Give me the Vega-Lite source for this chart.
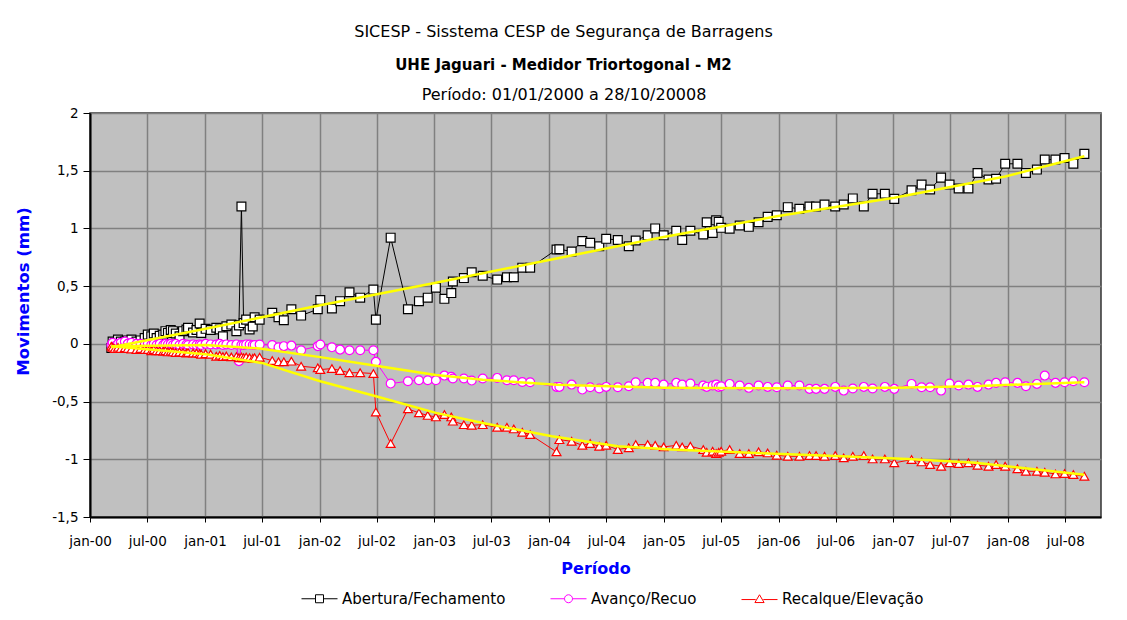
{
  "$schema": "https://vega.github.io/schema/vega-lite/v6.json",
  "width": 1011,
  "height": 404,
  "autosize": {"type": "none"},
  "padding": {"left": 90, "top": 113, "right": 26, "bottom": 103},
  "background": "white",
  "title": {
    "text": "SICESP - Sisstema CESP de Segurança de Barragens",
    "subtitle": "UHE Jaguari - Medidor Triortogonal - M2",
    "font": "DejaVu Sans", "fontSize": 16, "fontWeight": "normal", "color": "black",
    "subtitleFont": "DejaVu Sans", "subtitleFontSize": 15, "subtitleFontWeight": "bold", "subtitleColor": "black",
    "subtitlePadding": 18, "anchor": "middle", "frame": "group", "dx": -32, "offset": 13
  },
  "config": {
    "font": "DejaVu Sans",
    "view": {"fill": "#C0C0C0", "stroke": "#333333", "strokeWidth": 1.5},
    "axis": {"labelFont": "DejaVu Sans", "labelFontSize": 13.5, "labelColor": "black", "titleFont": "DejaVu Sans"}
  },
  "datasets": {
    "m": [
      {"d":"2000-03-09","Abertura/Fechamento":-0.035,"Avanço/Recuo":-0.01,"Recalque/Elevação":-0.02},
      {"d":"2000-03-13","Abertura/Fechamento":0.02,"Avanço/Recuo":0.01,"Recalque/Elevação":-0.03},
      {"d":"2000-03-20","Abertura/Fechamento":0.01,"Avanço/Recuo":-0.02,"Recalque/Elevação":-0.04},
      {"d":"2000-03-30","Abertura/Fechamento":0.037,"Avanço/Recuo":0.0,"Recalque/Elevação":-0.03},
      {"d":"2000-04-08","Abertura/Fechamento":0.02,"Avanço/Recuo":0.01,"Recalque/Elevação":-0.04},
      {"d":"2000-04-21","Abertura/Fechamento":0.02,"Avanço/Recuo":0.02,"Recalque/Elevação":-0.035},
      {"d":"2000-04-30","Abertura/Fechamento":0.03,"Avanço/Recuo":0.0,"Recalque/Elevação":-0.04},
      {"d":"2000-05-12","Abertura/Fechamento":0.037,"Avanço/Recuo":0.01,"Recalque/Elevação":-0.045},
      {"d":"2000-05-28","Abertura/Fechamento":0.02,"Avanço/Recuo":0.0,"Recalque/Elevação":-0.05},
      {"d":"2000-06-10","Abertura/Fechamento":0.03,"Avanço/Recuo":0.0,"Recalque/Elevação":-0.04},
      {"d":"2000-06-23","Abertura/Fechamento":0.05,"Avanço/Recuo":-0.01,"Recalque/Elevação":-0.05},
      {"d":"2000-07-03","Abertura/Fechamento":0.08,"Avanço/Recuo":0.0,"Recalque/Elevação":-0.05},
      {"d":"2000-07-14","Abertura/Fechamento":0.066,"Avanço/Recuo":-0.01,"Recalque/Elevação":-0.06},
      {"d":"2000-07-22","Abertura/Fechamento":0.09,"Avanço/Recuo":0.0,"Recalque/Elevação":-0.05},
      {"d":"2000-07-31","Abertura/Fechamento":0.05,"Avanço/Recuo":-0.01,"Recalque/Elevação":-0.06},
      {"d":"2000-08-10","Abertura/Fechamento":0.07,"Avanço/Recuo":0.0,"Recalque/Elevação":-0.06},
      {"d":"2000-08-21","Abertura/Fechamento":0.08,"Avanço/Recuo":-0.01,"Recalque/Elevação":-0.065},
      {"d":"2000-08-28","Abertura/Fechamento":0.11,"Avanço/Recuo":0.0,"Recalque/Elevação":-0.06},
      {"d":"2000-09-05","Abertura/Fechamento":0.095,"Avanço/Recuo":-0.005,"Recalque/Elevação":-0.07},
      {"d":"2000-09-14","Abertura/Fechamento":0.12,"Avanço/Recuo":0.0,"Recalque/Elevação":-0.065},
      {"d":"2000-09-21","Abertura/Fechamento":0.11,"Avanço/Recuo":-0.01,"Recalque/Elevação":-0.07},
      {"d":"2000-09-30","Abertura/Fechamento":0.09,"Avanço/Recuo":0.0,"Recalque/Elevação":-0.075},
      {"d":"2000-10-12","Abertura/Fechamento":0.066,"Avanço/Recuo":-0.01,"Recalque/Elevação":-0.07},
      {"d":"2000-10-23","Abertura/Fechamento":0.11,"Avanço/Recuo":0.0,"Recalque/Elevação":-0.075},
      {"d":"2000-11-03","Abertura/Fechamento":0.124,"Avanço/Recuo":-0.005,"Recalque/Elevação":-0.08},
      {"d":"2000-11-08","Abertura/Fechamento":0.14,"Avanço/Recuo":-0.01,"Recalque/Elevação":-0.075},
      {"d":"2000-11-24","Abertura/Fechamento":0.098,"Avanço/Recuo":-0.005,"Recalque/Elevação":-0.08},
      {"d":"2000-12-05","Abertura/Fechamento":0.12,"Avanço/Recuo":-0.01,"Recalque/Elevação":-0.08},
      {"d":"2000-12-15","Abertura/Fechamento":0.176,"Avanço/Recuo":-0.005,"Recalque/Elevação":-0.085},
      {"d":"2000-12-20","Abertura/Fechamento":0.095,"Avanço/Recuo":-0.01,"Recalque/Elevação":-0.09},
      {"d":"2001-01-03","Abertura/Fechamento":0.13,"Avanço/Recuo":0.0,"Recalque/Elevação":-0.085},
      {"d":"2001-01-19","Abertura/Fechamento":0.12,"Avanço/Recuo":-0.005,"Recalque/Elevação":-0.09},
      {"d":"2001-02-06","Abertura/Fechamento":0.14,"Avanço/Recuo":-0.006,"Recalque/Elevação":-0.107},
      {"d":"2001-02-17","Abertura/Fechamento":0.124,"Avanço/Recuo":0.0,"Recalque/Elevação":-0.1},
      {"d":"2001-02-27","Abertura/Fechamento":0.066,"Avanço/Recuo":-0.01,"Recalque/Elevação":-0.11},
      {"d":"2001-03-10","Abertura/Fechamento":0.153,"Avanço/Recuo":-0.005,"Recalque/Elevação":-0.105},
      {"d":"2001-03-26","Abertura/Fechamento":0.167,"Avanço/Recuo":-0.01,"Recalque/Elevação":-0.113},
      {"d":"2001-04-11","Abertura/Fechamento":0.11,"Avanço/Recuo":-0.005,"Recalque/Elevação":-0.11},
      {"d":"2001-04-19","Abertura/Fechamento":0.16,"Avanço/Recuo":-0.15,"Recalque/Elevação":-0.12},
      {"d":"2001-04-27","Abertura/Fechamento":1.19,"Avanço/Recuo":-0.01,"Recalque/Elevação":-0.115},
      {"d":"2001-05-04","Abertura/Fechamento":0.18,"Avanço/Recuo":-0.01,"Recalque/Elevação":-0.12},
      {"d":"2001-05-12","Abertura/Fechamento":0.21,"Avanço/Recuo":-0.005,"Recalque/Elevação":-0.115},
      {"d":"2001-05-23","Abertura/Fechamento":0.124,"Avanço/Recuo":-0.006,"Recalque/Elevação":-0.12},
      {"d":"2001-06-02","Abertura/Fechamento":0.15,"Avanço/Recuo":-0.01,"Recalque/Elevação":-0.125},
      {"d":"2001-06-08","Abertura/Fechamento":0.23,"Avanço/Recuo":-0.01,"Recalque/Elevação":-0.12},
      {"d":"2001-06-24","Abertura/Fechamento":0.21,"Avanço/Recuo":-0.006,"Recalque/Elevação":-0.116},
      {"d":"2001-08-03","Abertura/Fechamento":0.27,"Avanço/Recuo":-0.01,"Recalque/Elevação":-0.145},
      {"d":"2001-08-23","Abertura/Fechamento":0.23,"Avanço/Recuo":-0.03,"Recalque/Elevação":-0.156},
      {"d":"2001-09-09","Abertura/Fechamento":0.205,"Avanço/Recuo":-0.02,"Recalque/Elevação":-0.156},
      {"d":"2001-10-03","Abertura/Fechamento":0.30,"Avanço/Recuo":-0.015,"Recalque/Elevação":-0.15},
      {"d":"2001-11-03","Abertura/Fechamento":0.245,"Avanço/Recuo":-0.055,"Recalque/Elevação":-0.194},
      {"d":"2001-12-26","Abertura/Fechamento":0.30,"Avanço/Recuo":-0.02,"Recalque/Elevação":-0.208},
      {"d":"2002-01-03","Abertura/Fechamento":0.38,"Avanço/Recuo":-0.006,"Recalque/Elevação":-0.223},
      {"d":"2002-02-09","Abertura/Fechamento":0.306,"Avanço/Recuo":-0.03,"Recalque/Elevação":-0.214},
      {"d":"2002-03-07","Abertura/Fechamento":0.37,"Avanço/Recuo":-0.05,"Recalque/Elevação":-0.231},
      {"d":"2002-04-06","Abertura/Fechamento":0.447,"Avanço/Recuo":-0.055,"Recalque/Elevação":-0.25},
      {"d":"2002-05-10","Abertura/Fechamento":0.40,"Avanço/Recuo":-0.055,"Recalque/Elevação":-0.25},
      {"d":"2002-06-21","Abertura/Fechamento":0.47,"Avanço/Recuo":-0.055,"Recalque/Elevação":-0.257},
      {"d":"2002-06-29","Abertura/Fechamento":0.21,"Avanço/Recuo":-0.156,"Recalque/Elevação":-0.59},
      {"d":"2002-08-15","Abertura/Fechamento":0.92,"Avanço/Recuo":-0.344,"Recalque/Elevação":-0.864},
      {"d":"2002-10-09","Abertura/Fechamento":0.30,"Avanço/Recuo":-0.324,"Recalque/Elevação":-0.563},
      {"d":"2002-11-13","Abertura/Fechamento":0.37,"Avanço/Recuo":-0.315,"Recalque/Elevação":-0.598},
      {"d":"2002-12-11","Abertura/Fechamento":0.40,"Avanço/Recuo":-0.315,"Recalque/Elevação":-0.62},
      {"d":"2003-01-06","Abertura/Fechamento":0.487,"Avanço/Recuo":-0.315,"Recalque/Elevação":-0.633},
      {"d":"2003-02-02","Abertura/Fechamento":0.39,"Avanço/Recuo":-0.275,"Recalque/Elevação":-0.613},
      {"d":"2003-02-24","Abertura/Fechamento":0.44,"Avanço/Recuo":-0.286,"Recalque/Elevação":-0.633},
      {"d":"2003-03-01","Abertura/Fechamento":0.54,"Avanço/Recuo":-0.30,"Recalque/Elevação":-0.67},
      {"d":"2003-04-05","Abertura/Fechamento":0.57,"Avanço/Recuo":-0.30,"Recalque/Elevação":-0.70},
      {"d":"2003-04-30","Abertura/Fechamento":0.62,"Avanço/Recuo":-0.318,"Recalque/Elevação":-0.705},
      {"d":"2003-06-04","Abertura/Fechamento":0.59,"Avanço/Recuo":-0.30,"Recalque/Elevação":-0.70},
      {"d":"2003-07-20","Abertura/Fechamento":0.557,"Avanço/Recuo":-0.295,"Recalque/Elevação":-0.723},
      {"d":"2003-08-20","Abertura/Fechamento":0.577,"Avanço/Recuo":-0.315,"Recalque/Elevação":-0.723},
      {"d":"2003-09-11","Abertura/Fechamento":0.577,"Avanço/Recuo":-0.315,"Recalque/Elevação":-0.737},
      {"d":"2003-10-08","Abertura/Fechamento":0.66,"Avanço/Recuo":-0.33,"Recalque/Elevação":-0.766},
      {"d":"2003-11-02","Abertura/Fechamento":0.66,"Avanço/Recuo":-0.333,"Recalque/Elevação":-0.786},
      {"d":"2004-01-25","Abertura/Fechamento":0.817,"Avanço/Recuo":-0.373,"Recalque/Elevação":-0.936},
      {"d":"2004-02-03","Abertura/Fechamento":0.82,"Avanço/Recuo":-0.373,"Recalque/Elevação":-0.83},
      {"d":"2004-03-13","Abertura/Fechamento":0.80,"Avanço/Recuo":-0.353,"Recalque/Elevação":-0.844},
      {"d":"2004-04-16","Abertura/Fechamento":0.89,"Avanço/Recuo":-0.396,"Recalque/Elevação":-0.879},
      {"d":"2004-05-11","Abertura/Fechamento":0.875,"Avanço/Recuo":-0.376,"Recalque/Elevação":-0.864},
      {"d":"2004-06-09","Abertura/Fechamento":0.846,"Avanço/Recuo":-0.387,"Recalque/Elevação":-0.887},
      {"d":"2004-07-01","Abertura/Fechamento":0.91,"Avanço/Recuo":-0.373,"Recalque/Elevação":-0.879},
      {"d":"2004-08-07","Abertura/Fechamento":0.90,"Avanço/Recuo":-0.376,"Recalque/Elevação":-0.916},
      {"d":"2004-09-11","Abertura/Fechamento":0.846,"Avanço/Recuo":-0.367,"Recalque/Elevação":-0.90},
      {"d":"2004-10-03","Abertura/Fechamento":0.895,"Avanço/Recuo":-0.333,"Recalque/Elevação":-0.873},
      {"d":"2004-11-10","Abertura/Fechamento":0.94,"Avanço/Recuo":-0.338,"Recalque/Elevação":-0.873},
      {"d":"2004-12-04","Abertura/Fechamento":1.0,"Avanço/Recuo":-0.338,"Recalque/Elevação":-0.879},
      {"d":"2004-12-31","Abertura/Fechamento":0.94,"Avanço/Recuo":-0.353,"Recalque/Elevação":-0.893},
      {"d":"2005-02-09","Abertura/Fechamento":0.98,"Avanço/Recuo":-0.338,"Recalque/Elevação":-0.879},
      {"d":"2005-02-28","Abertura/Fechamento":0.90,"Avanço/Recuo":-0.353,"Recalque/Elevação":-0.893},
      {"d":"2005-03-26","Abertura/Fechamento":0.98,"Avanço/Recuo":-0.344,"Recalque/Elevação":-0.887},
      {"d":"2005-05-06","Abertura/Fechamento":0.947,"Avanço/Recuo":-0.361,"Recalque/Elevação":-0.916},
      {"d":"2005-05-17","Abertura/Fechamento":1.054,"Avanço/Recuo":-0.373,"Recalque/Elevação":-0.94},
      {"d":"2005-06-05","Abertura/Fechamento":0.96,"Avanço/Recuo":-0.361,"Recalque/Elevação":-0.93},
      {"d":"2005-06-16","Abertura/Fechamento":1.07,"Avanço/Recuo":-0.353,"Recalque/Elevação":-0.95},
      {"d":"2005-06-24","Abertura/Fechamento":1.057,"Avanço/Recuo":-0.373,"Recalque/Elevação":-0.94},
      {"d":"2005-07-02","Abertura/Fechamento":1.005,"Avanço/Recuo":-0.367,"Recalque/Elevação":-0.93},
      {"d":"2005-07-29","Abertura/Fechamento":0.997,"Avanço/Recuo":-0.347,"Recalque/Elevação":-0.916},
      {"d":"2005-08-30","Abertura/Fechamento":1.025,"Avanço/Recuo":-0.361,"Recalque/Elevação":-0.95},
      {"d":"2005-09-28","Abertura/Fechamento":1.014,"Avanço/Recuo":-0.381,"Recalque/Elevação":-0.95},
      {"d":"2005-10-29","Abertura/Fechamento":1.054,"Avanço/Recuo":-0.361,"Recalque/Elevação":-0.936},
      {"d":"2005-11-27","Abertura/Fechamento":1.10,"Avanço/Recuo":-0.373,"Recalque/Elevação":-0.945},
      {"d":"2005-12-26","Abertura/Fechamento":1.114,"Avanço/Recuo":-0.376,"Recalque/Elevação":-0.965},
      {"d":"2006-01-30","Abertura/Fechamento":1.184,"Avanço/Recuo":-0.361,"Recalque/Elevação":-0.974},
      {"d":"2006-03-08","Abertura/Fechamento":1.17,"Avanço/Recuo":-0.361,"Recalque/Elevação":-0.974},
      {"d":"2006-04-09","Abertura/Fechamento":1.19,"Avanço/Recuo":-0.39,"Recalque/Elevação":-0.968},
      {"d":"2006-04-30","Abertura/Fechamento":1.19,"Avanço/Recuo":-0.39,"Recalque/Elevação":-0.968},
      {"d":"2006-05-27","Abertura/Fechamento":1.207,"Avanço/Recuo":-0.39,"Recalque/Elevação":-0.974},
      {"d":"2006-06-30","Abertura/Fechamento":1.19,"Avanço/Recuo":-0.373,"Recalque/Elevação":-0.968},
      {"d":"2006-07-27","Abertura/Fechamento":1.207,"Avanço/Recuo":-0.405,"Recalque/Elevação":-0.988},
      {"d":"2006-08-25","Abertura/Fechamento":1.26,"Avanço/Recuo":-0.387,"Recalque/Elevação":-0.974},
      {"d":"2006-09-29","Abertura/Fechamento":1.19,"Avanço/Recuo":-0.373,"Recalque/Elevação":-0.968},
      {"d":"2006-10-27","Abertura/Fechamento":1.30,"Avanço/Recuo":-0.387,"Recalque/Elevação":-0.997},
      {"d":"2006-12-05","Abertura/Fechamento":1.30,"Avanço/Recuo":-0.373,"Recalque/Elevação":-0.997},
      {"d":"2007-01-04","Abertura/Fechamento":1.256,"Avanço/Recuo":-0.39,"Recalque/Elevação":-1.031},
      {"d":"2007-02-28","Abertura/Fechamento":1.33,"Avanço/Recuo":-0.347,"Recalque/Elevação":-1.003},
      {"d":"2007-04-01","Abertura/Fechamento":1.38,"Avanço/Recuo":-0.376,"Recalque/Elevação":-1.023},
      {"d":"2007-04-28","Abertura/Fechamento":1.337,"Avanço/Recuo":-0.376,"Recalque/Elevação":-1.046},
      {"d":"2007-06-02","Abertura/Fechamento":1.44,"Avanço/Recuo":-0.405,"Recalque/Elevação":-1.06},
      {"d":"2007-06-29","Abertura/Fechamento":1.38,"Avanço/Recuo":-0.344,"Recalque/Elevação":-1.031},
      {"d":"2007-07-28","Abertura/Fechamento":1.346,"Avanço/Recuo":-0.361,"Recalque/Elevação":-1.037},
      {"d":"2007-08-28","Abertura/Fechamento":1.346,"Avanço/Recuo":-0.353,"Recalque/Elevação":-1.031},
      {"d":"2007-09-26","Abertura/Fechamento":1.48,"Avanço/Recuo":-0.373,"Recalque/Elevação":-1.052},
      {"d":"2007-10-31","Abertura/Fechamento":1.424,"Avanço/Recuo":-0.353,"Recalque/Elevação":-1.06},
      {"d":"2007-11-24","Abertura/Fechamento":1.43,"Avanço/Recuo":-0.338,"Recalque/Elevação":-1.046},
      {"d":"2007-12-23","Abertura/Fechamento":1.56,"Avanço/Recuo":-0.333,"Recalque/Elevação":-1.06},
      {"d":"2008-01-31","Abertura/Fechamento":1.56,"Avanço/Recuo":-0.338,"Recalque/Elevação":-1.083},
      {"d":"2008-02-27","Abertura/Fechamento":1.48,"Avanço/Recuo":-0.367,"Recalque/Elevação":-1.104},
      {"d":"2008-04-02","Abertura/Fechamento":1.51,"Avanço/Recuo":-0.347,"Recalque/Elevação":-1.104},
      {"d":"2008-04-27","Abertura/Fechamento":1.597,"Avanço/Recuo":-0.275,"Recalque/Elevação":-1.113},
      {"d":"2008-05-31","Abertura/Fechamento":1.597,"Avanço/Recuo":-0.338,"Recalque/Elevação":-1.127},
      {"d":"2008-06-29","Abertura/Fechamento":1.61,"Avanço/Recuo":-0.333,"Recalque/Elevação":-1.124},
      {"d":"2008-07-27","Abertura/Fechamento":1.56,"Avanço/Recuo":-0.324,"Recalque/Elevação":-1.133},
      {"d":"2008-08-31","Abertura/Fechamento":1.646,"Avanço/Recuo":-0.333,"Recalque/Elevação":-1.147}
    ],
    "t": [
      {"d":"2000-03-09","s":"A","v":-0.03},
      {"d":"2001-01-03","s":"A","v":0.13},
      {"d":"2002-01-03","s":"A","v":0.335},
      {"d":"2003-01-06","s":"A","v":0.53},
      {"d":"2004-01-25","s":"A","v":0.74},
      {"d":"2004-12-31","s":"A","v":0.925},
      {"d":"2005-12-26","s":"A","v":1.105},
      {"d":"2007-01-04","s":"A","v":1.265},
      {"d":"2007-12-23","s":"A","v":1.45},
      {"d":"2008-08-31","s":"A","v":1.626},
      {"d":"2000-03-09","s":"B","v":-0.02},
      {"d":"2001-01-03","s":"B","v":-0.01},
      {"d":"2001-06-24","s":"B","v":-0.04},
      {"d":"2002-01-03","s":"B","v":-0.115},
      {"d":"2002-06-29","s":"B","v":-0.19},
      {"d":"2003-01-06","s":"B","v":-0.27},
      {"d":"2003-06-04","s":"B","v":-0.31},
      {"d":"2004-01-25","s":"B","v":-0.355},
      {"d":"2004-12-31","s":"B","v":-0.38},
      {"d":"2005-12-26","s":"B","v":-0.385},
      {"d":"2007-01-04","s":"B","v":-0.38},
      {"d":"2007-09-10","s":"B","v":-0.367},
      {"d":"2008-08-31","s":"B","v":-0.333},
      {"d":"2000-03-09","s":"C","v":-0.02},
      {"d":"2001-01-03","s":"C","v":-0.09},
      {"d":"2001-07-01","s":"C","v":-0.165},
      {"d":"2002-01-03","s":"C","v":-0.324},
      {"d":"2002-06-29","s":"C","v":-0.454},
      {"d":"2003-01-06","s":"C","v":-0.598},
      {"d":"2003-06-04","s":"C","v":-0.685},
      {"d":"2004-01-10","s":"C","v":-0.80},
      {"d":"2004-08-07","s":"C","v":-0.887},
      {"d":"2005-01-25","s":"C","v":-0.916},
      {"d":"2005-10-20","s":"C","v":-0.945},
      {"d":"2006-07-20","s":"C","v":-0.974},
      {"d":"2007-02-15","s":"C","v":-0.997},
      {"d":"2007-09-20","s":"C","v":-1.031},
      {"d":"2008-08-31","s":"C","v":-1.133}
    ]
  },
  "encoding": {
    "x": {
      "field": "d", "type": "temporal",
      "scale": {"type": "utc", "domain": [{"year": 2000, "month": 1, "date": 1, "utc": true}, {"year": 2008, "month": 10, "date": 23, "utc": true}]},
      "axis": {
        "orient": "bottom",
        "values": [
          {"year":2000,"month":1,"date":1,"utc":true},{"year":2000,"month":7,"date":1,"utc":true},
          {"year":2001,"month":1,"date":1,"utc":true},{"year":2001,"month":7,"date":1,"utc":true},
          {"year":2002,"month":1,"date":1,"utc":true},{"year":2002,"month":7,"date":1,"utc":true},
          {"year":2003,"month":1,"date":1,"utc":true},{"year":2003,"month":7,"date":1,"utc":true},
          {"year":2004,"month":1,"date":1,"utc":true},{"year":2004,"month":7,"date":1,"utc":true},
          {"year":2005,"month":1,"date":1,"utc":true},{"year":2005,"month":7,"date":1,"utc":true},
          {"year":2006,"month":1,"date":1,"utc":true},{"year":2006,"month":7,"date":1,"utc":true},
          {"year":2007,"month":1,"date":1,"utc":true},{"year":2007,"month":7,"date":1,"utc":true},
          {"year":2008,"month":1,"date":1,"utc":true},{"year":2008,"month":7,"date":1,"utc":true}
        ],
        "labelExpr": "(utcmonth(datum.value)==0?'jan-':'jul-') + utcFormat(datum.value,'%y')",
        "labelAngle": 0, "labelPadding": 12, "labelFlush": false, "labelOverlap": false,
        "tickSize": 5, "tickColor": "black", "domainColor": "black", "domainWidth": 2,
        "grid": true, "gridColor": "#808080", "gridWidth": 1.5,
        "title": "Período", "titleFontSize": 16, "titleFontWeight": "bold", "titleColor": "#0000FF", "titlePadding": 13
      }
    },
    "y": {
      "field": "v", "type": "quantitative",
      "scale": {"domain": [-1.5, 2], "nice": false, "zero": false},
      "axis": {
        "values": [-1.5, -1, -0.5, 0, 0.5, 1, 1.5, 2],
        "format": "~g",
        "labelExpr": "replace(replace(datum.label,'.',','),'−','-')",
        "labelPadding": 5, "tickSize": 7, "tickColor": "black", "domainColor": "black", "domainWidth": 2,
        "grid": true, "gridColor": "#808080", "gridWidth": 1.5,
        "title": "Movimentos (mm)", "titleFontSize": 16.5, "titleFontWeight": "bold", "titleColor": "#0000FF", "titlePadding": 20, "titleY": 178
      }
    }
  },
  "resolve": {"axis": {"x": "independent"}, "scale": {"shape": "independent", "stroke": "independent"}},
  "layer": [
    {
      "data": {"name": "m"},
      "transform": [{"fold": ["Abertura/Fechamento", "Avanço/Recuo", "Recalque/Elevação"], "as": ["s", "v"]}],
      "mark": {"type": "line", "strokeWidth": 1},
      "encoding": {
        "color": {"field": "s", "type": "nominal", "scale": {"domain": ["Abertura/Fechamento", "Avanço/Recuo", "Recalque/Elevação"], "range": ["#000000", "#FF00FF", "#FF0000"]}, "legend": null}
      }
    },
    {
      "data": {"name": "m"},
      "transform": [{"fold": ["Abertura/Fechamento", "Avanço/Recuo", "Recalque/Elevação"], "as": ["s", "v"]}],
      "mark": {"type": "point", "filled": true, "fill": "white", "strokeWidth": 1.2, "opacity": 1, "size": 78},
      "encoding": {
        "x": {"field": "d", "type": "temporal", "axis": null},
        "stroke": {"field": "s", "type": "nominal", "scale": {"domain": ["Abertura/Fechamento", "Avanço/Recuo", "Recalque/Elevação"], "range": ["#000000", "#FF00FF", "#FF0000"]}, "legend": null},
        "shape": {"field": "s", "type": "nominal", "scale": {"domain": ["Abertura/Fechamento", "Avanço/Recuo", "Recalque/Elevação"], "range": ["square", "circle", "triangle-up"]}, "legend": null},
        "order": {"field": "s", "type": "ordinal"}
      }
    },
    {
      "data": {"name": "t"},
      "mark": {"type": "line", "color": "#FFFF00", "strokeWidth": 2.5},
      "encoding": {
        "x": {"field": "d", "type": "temporal", "axis": {"orient": "top", "title": "Período: 01/01/2000 a 28/10/20008", "labels": false, "ticks": false, "domain": false, "grid": false, "titleFontSize": 16, "titleFontWeight": "normal", "titleColor": "black", "titlePadding": 11, "titleX": 473.5}},
        "detail": {"field": "s", "type": "nominal"}
      }
    },
    {
      "data": {"values": []},
      "mark": {"type": "point", "filled": true, "fill": "white", "strokeWidth": 1, "opacity": 1},
      "encoding": {
        "x": {"field": "d", "type": "temporal", "axis": null},
        "stroke": {"field": "s", "type": "nominal", "scale": {"domain": ["Abertura/Fechamento", "Avanço/Recuo", "Recalque/Elevação"], "range": ["#000000", "#FF00FF", "#FF0000"]}, "legend": {"title": null}},
        "shape": {"field": "s", "type": "nominal", "scale": {"domain": ["Abertura/Fechamento", "Avanço/Recuo", "Recalque/Elevação"], "range": ["M-4.5,0L-1,0M1,0L4.5,0M-1,-1L1,-1L1,1L-1,1Z", "M-4.5,0L-1,0M1,0L4.5,0M1,0A1,1,0,1,1,-1,0A1,1,0,1,1,1,0Z", "M-4.5,0.2L-0.95,0.2M0.95,0.2L4.5,0.2M0,-1L1.15,0.95L-1.15,0.95Z"]},
          "legend": {
            "title": null, "orient": "none", "legendX": 222, "legendY": 478, "direction": "horizontal", "symbolSize": 64, "symbolStrokeWidth": 1,
            "labelFont": "DejaVu Sans", "labelFontSize": 15, "labelColor": "black", "labelOffset": 15, "columnPadding": 42, "labelLimit": 400,
            "encode": {"symbols": {"update": {"fill": {"value": "white"}, "strokeWidth": {"value": 1}, "opacity": {"value": 1}}}}
          }
        }
      }
    }
  ]
}
